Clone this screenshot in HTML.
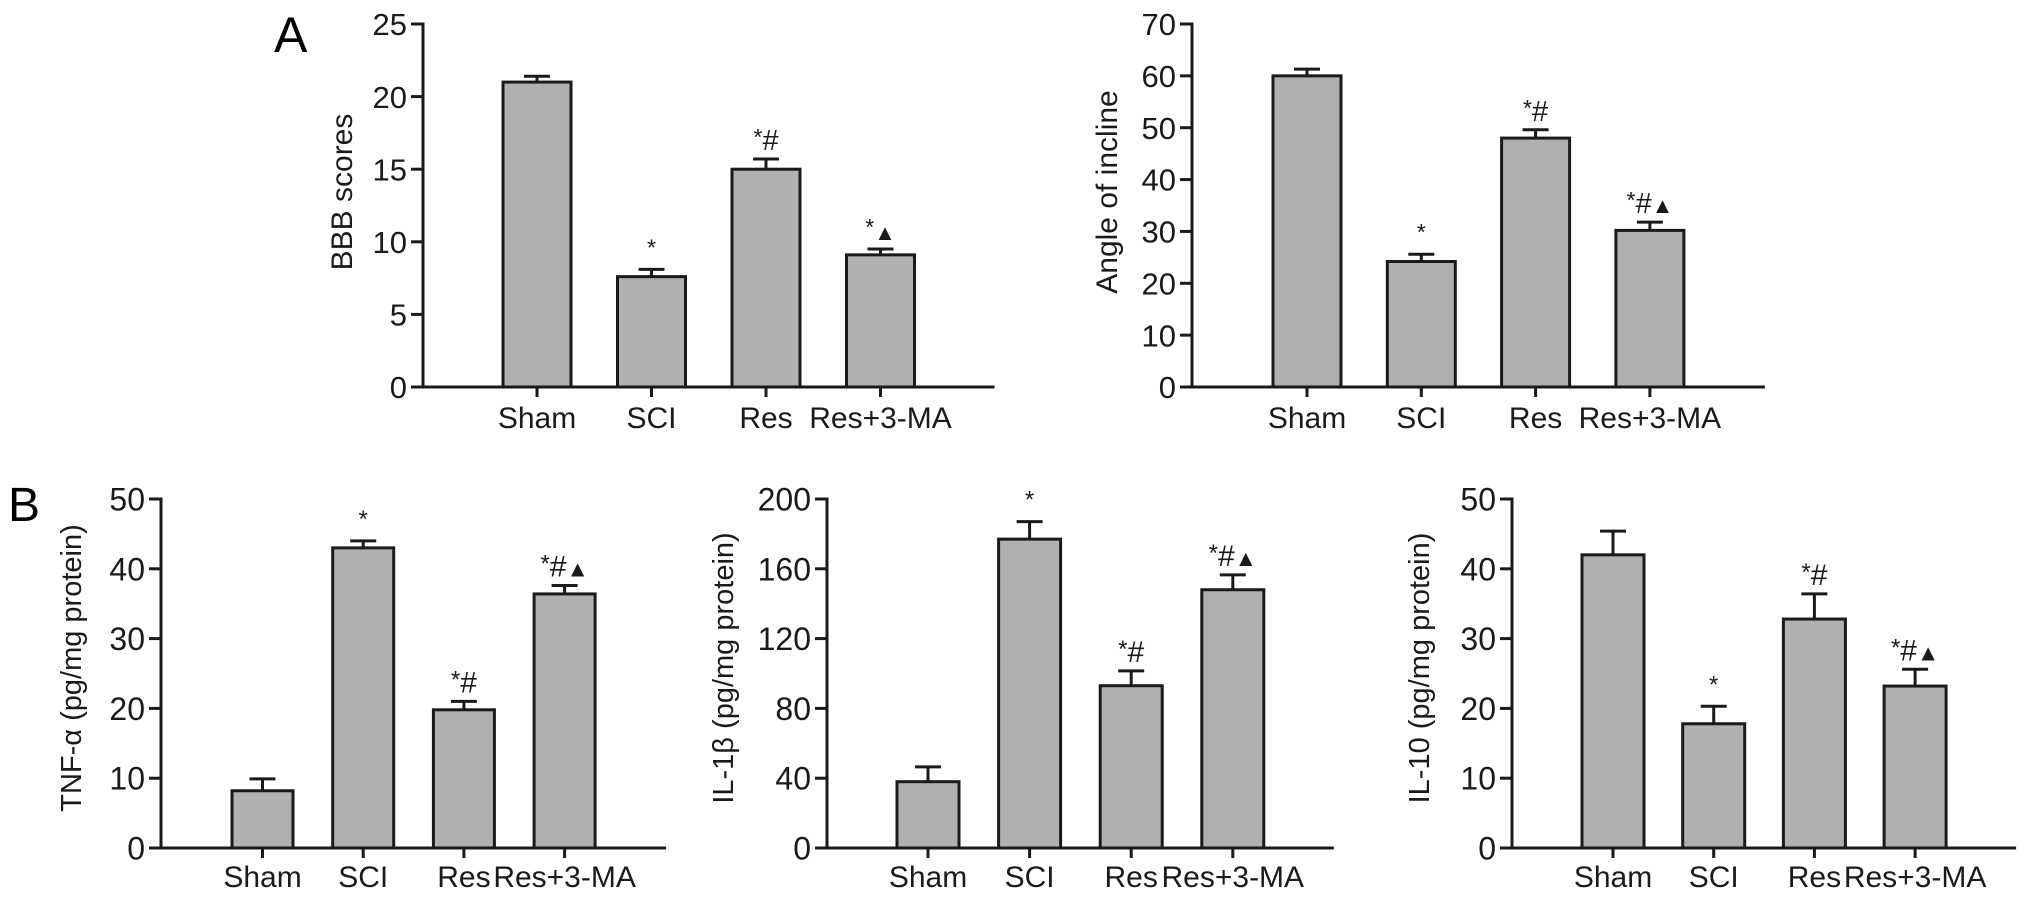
<!DOCTYPE html>
<html><head><meta charset="utf-8"><style>
html,body{margin:0;padding:0;background:#fff;}
svg{display:block;font-family:"Liberation Sans",Arial,sans-serif;}
</style></head><body>
<svg id="fig" width="2031" height="902" viewBox="0 0 2031 902" xmlns="http://www.w3.org/2000/svg">
<text x="274" y="52" font-size="50">A</text>
<text x="8" y="521" font-size="48">B</text>
</svg>
<script>
const categories = ["Sham","SCI","Res","Res+3-MA"];
const bbbValues = [21, 7.6, 15, 9.1];
const bbbErrors = [0.4, 0.5, 0.7, 0.4];
const bbbMarks = ["", "*", "*#", "*\u25B2"];
const bbbTicks = [0,5,10,15,20,25];
const angleValues = [60, 24.2, 48, 30.2];
const angleErrors = [1.3, 1.4, 1.6, 1.6];
const angleMarks = ["", "*", "*#", "*#\u25B2"];
const angleTicks = [0,10,20,30,40,50,60,70];
const tnfValues = [8.2, 43, 19.8, 36.4];
const tnfErrors = [1.7, 1.0, 1.2, 1.2];
const tnfMarks = ["", "*", "*#", "*#\u25B2"];
const tnfTicks = [0,10,20,30,40,50];
const il1Values = [38, 177, 93, 148];
const il1Errors = [8.5, 10, 8.5, 8.5];
const il1Marks = ["", "*", "*#", "*#\u25B2"];
const il1Ticks = [0,40,80,120,160,200];
const il10Values = [42, 17.8, 32.8, 23.2];
const il10Errors = [3.4, 2.5, 3.6, 2.4];
const il10Marks = ["", "*", "*#", "*#\u25B2"];
const il10Ticks = [0,10,20,30,40,50];

const NS = "http://www.w3.org/2000/svg";
const svg = document.getElementById('fig');
function mk(tag, attrs, parent){
  const e = document.createElementNS(NS, tag);
  for (const k in attrs) e.setAttribute(k, attrs[k]);
  (parent||svg).appendChild(e);
  return e;
}
function chart(cfg, values, errors, marks, ticks){
  const g = mk('g', {});
  
  
  const ymax = ticks[ticks.length-1];
  const y = v => cfg.y0 - (v/ymax)*(cfg.y0-cfg.yTop);
  const xc = i => cfg.firstBar + cfg.bw/2 + i*cfg.step;
  const axisEnd = cfg.firstBar + 3*cfg.step + cfg.bw + (cfg.firstBar-cfg.ax);
  values.forEach((v,i)=>{
    const top = y(v), ex = y(v+errors[i]);
    const eg = mk('line',{x1:xc(i),x2:xc(i),y1:top,y2:ex,stroke:'#1a1a1a','stroke-width':3},g);
    
    
    const cap = mk('line',{x1:xc(i)-13,x2:xc(i)+13,y1:ex,y2:ex,stroke:'#1a1a1a','stroke-width':3},g);
    
    
    const r = mk('rect',{x:xc(i)-cfg.bw/2,y:top,width:cfg.bw,height:cfg.y0-top,fill:'#b0b0b0',stroke:'#1a1a1a','stroke-width':3},g);
    
    
    if (marks[i]){
      const t = mk('text',{x:xc(i),y:ex-9,'text-anchor':'middle','font-size':cfg.mfs,fill:'#1a1a1a'},g);
      
      
      const s = marks[i];
      const st = mk('tspan',{'font-size':cfg.mfs*0.8,dy:-5},t); st.textContent='*';
      const rest = s.slice(1);
      if (rest){
        const hash = rest.replace('\u25B2','');
        if (hash){ const h = mk('tspan',{dy:5},t); h.textContent=hash; }
        if (rest.indexOf('\u25B2')>=0){ const tr = mk('tspan',{'font-size':cfg.mfs*0.75,dy: hash?0:5},t); tr.textContent='\u25B2'; }
      }
    }
    const tk = mk('line',{x1:xc(i),x2:xc(i),y1:cfg.y0,y2:cfg.y0+10,stroke:'#1a1a1a','stroke-width':3},g);
    
    
    const lb = mk('text',{x:xc(i),y:cfg.xlY,'text-anchor':'middle','font-size':cfg.xfs,fill:'#1a1a1a'},g);
    lb.textContent = categories[i];
    
    
  });
  const ya = mk('line',{x1:cfg.ax,x2:cfg.ax,y1:cfg.yTop-1.5,y2:cfg.y0+1.5,stroke:'#1a1a1a','stroke-width':3},g);
  
  
  const xa = mk('line',{x1:cfg.ax-12,x2:axisEnd,y1:cfg.y0,y2:cfg.y0,stroke:'#1a1a1a','stroke-width':3},g);
  
  
  ticks.forEach(t=>{
    const l = mk('line',{x1:cfg.ax-12,x2:cfg.ax,y1:y(t),y2:y(t),stroke:'#1a1a1a','stroke-width':3},g);
    
    
    const tx = mk('text',{x:cfg.ax-16,y:y(t)+cfg.yfs*0.36,'text-anchor':'end','font-size':cfg.yfs,fill:'#1a1a1a'},g);
    tx.textContent = t;
    
    
  });
  const ty = mk('text',{x:0,y:0,'text-anchor':'middle','font-size':cfg.tfs,fill:'#1a1a1a',transform:`translate(${cfg.titleX},${cfg.titleY}) rotate(-90)`},g);
  ty.textContent = cfg.title;
  
  
}
chart({name:'chart-bbb',ax:423,y0:387,yTop:24,firstBar:503,bw:68,step:114.5,xlY:428,xfs:30,yfs:31,tfs:30,mfs:29,titleX:352,titleY:192,title:'BBB scores'}, bbbValues, bbbErrors, bbbMarks, bbbTicks);
chart({name:'chart-angle',ax:1192,y0:387,yTop:24,firstBar:1273,bw:68,step:114.3,xlY:428,xfs:30,yfs:31,tfs:30,mfs:29,titleX:1117,titleY:192,title:'Angle of incline'}, angleValues, angleErrors, angleMarks, angleTicks);
chart({name:'chart-tnf',ax:161,y0:848,yTop:499,firstBar:232,bw:61,step:100.7,xlY:887,xfs:30,yfs:32,tfs:29,mfs:30,titleX:81,titleY:668,title:'TNF-\u03B1 (pg/mg protein)'}, tnfValues, tnfErrors, tnfMarks, tnfTicks);
chart({name:'chart-il1b',ax:827,y0:848,yTop:499,firstBar:897,bw:62,step:101.6,xlY:887,xfs:30,yfs:32,tfs:29,mfs:30,titleX:733,titleY:668,title:'IL-1\u03B2 (pg/mg protein)'}, il1Values, il1Errors, il1Marks, il1Ticks);
chart({name:'chart-il10',ax:1512,y0:848,yTop:499,firstBar:1582,bw:62,step:100.7,xlY:887,xfs:30,yfs:32,tfs:29,mfs:30,titleX:1429,titleY:668,title:'IL-10 (pg/mg protein)'}, il10Values, il10Errors, il10Marks, il10Ticks);
</script>
</body></html>
